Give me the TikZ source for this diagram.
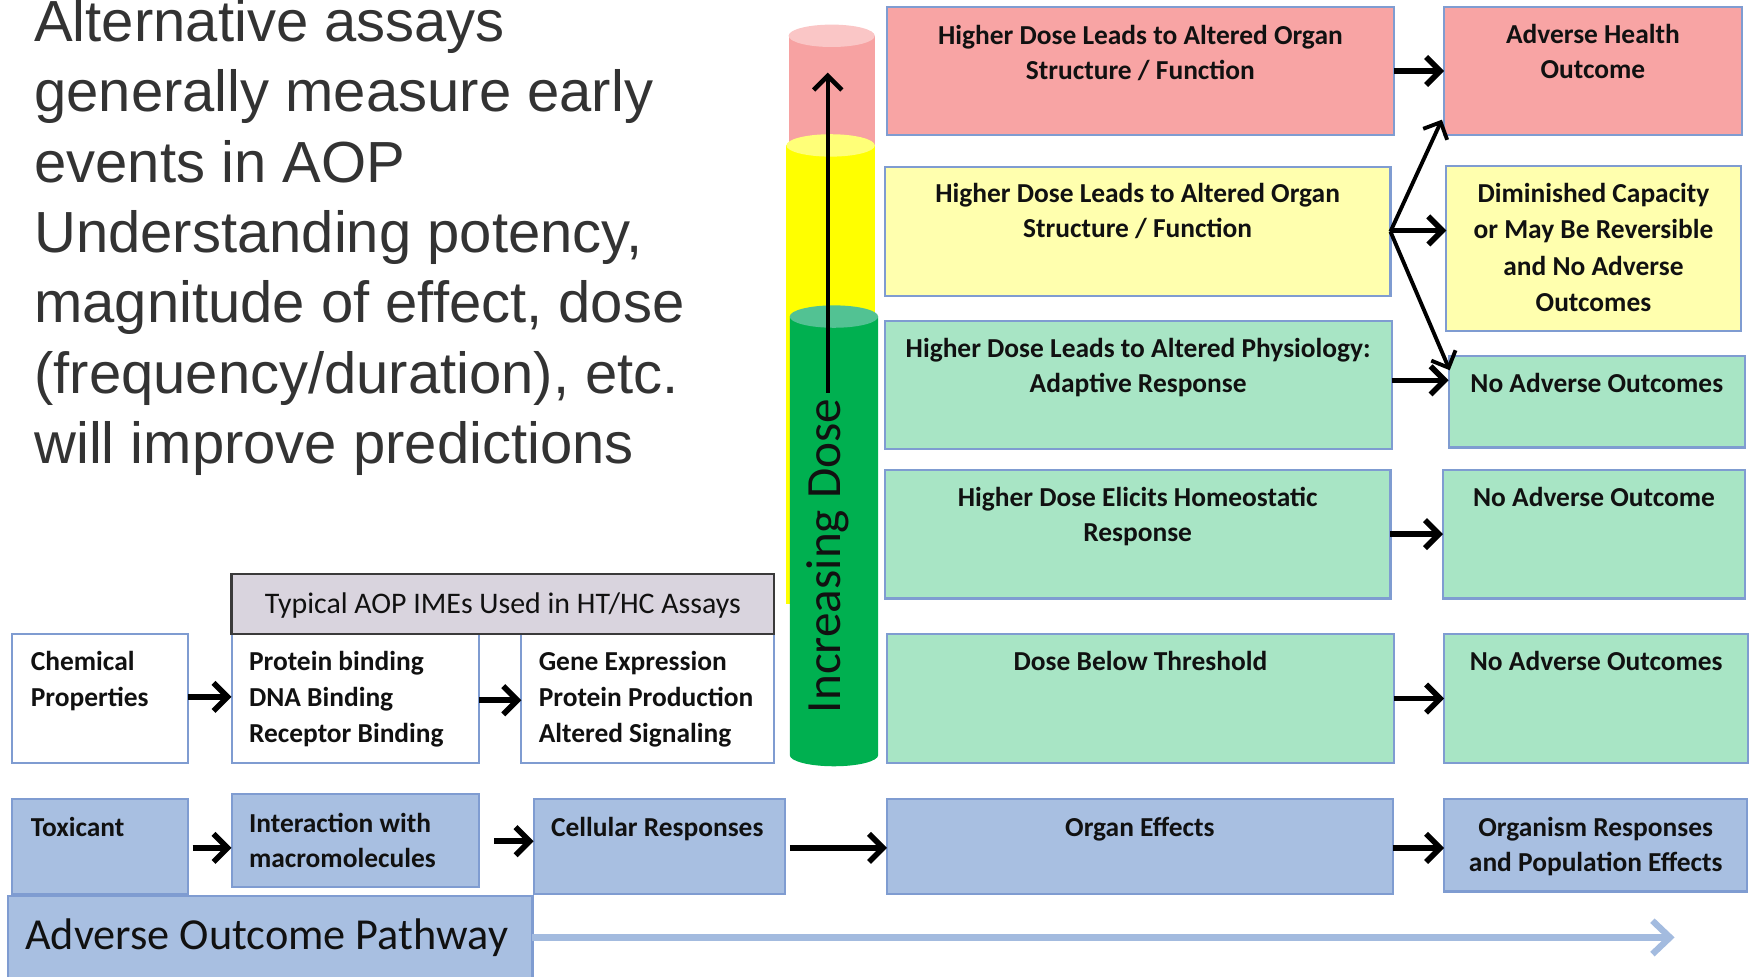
\documentclass[tikz,border=0pt]{standalone}
\usepackage{fontspec}
\setmainfont{Carlito}
\newfontfamily\arialf{Liberation Sans}
\usetikzlibrary{arrows.meta,fit}
\definecolor{redf}{HTML}{F8A4A4}
\definecolor{yelf}{HTML}{FFFFAE}
\definecolor{grnf}{HTML}{A8E5C5}
\definecolor{bluf}{HTML}{A8BFE1}
\definecolor{bord}{HTML}{7F9CD1}
\definecolor{hdrf}{HTML}{D9D4DE}
\definecolor{hdrb}{HTML}{3A3A3A}
\definecolor{cylred}{HTML}{F7A2A2}
\definecolor{cylredtop}{HTML}{FAC6C6}
\definecolor{cylyel}{HTML}{FFFF00}
\definecolor{cylyeltop}{HTML}{FFFF78}
\definecolor{cylgrn}{HTML}{00B050}
\definecolor{cylgrntop}{HTML}{52C293}
\definecolor{aopline}{HTML}{A3BBDF}
\definecolor{txtc}{HTML}{111111}
\definecolor{greytxt}{HTML}{333333}
\tikzset{
  box/.style={draw=bord, line width=0.6pt, inner sep=0pt, outer sep=0pt},
  hdrbox/.style={draw=hdrb, fill=hdrf, line width=0.7pt, inner sep=0pt, outer sep=0pt},
  bt/.style={font=\bfseries\fontsize{7.8}{10}\selectfont, text=txtc, align=center, inner sep=0pt, anchor=north},
  btl/.style={font=\bfseries\fontsize{7.8}{10.2}\selectfont, text=txtc, align=left, inner sep=0pt, anchor=north west},
  arr/.style={line width=1.6pt, -{Straight Barb[length=4pt,width=8pt]}},
  fan/.style={line width=1.1pt, -{Straight Barb[length=3.8pt,width=7.5pt]}},
}
\begin{document}
\begin{tikzpicture}[x=0.011186cm, y=-0.011186cm]
\useasboundingbox (0,0) rectangle (1568,873);

% left text
\node[font=\arialf\fontsize{16.5}{20}\selectfont, text=greytxt, align=left, inner sep=0pt, anchor=north west] (intro) at (30,-1)
 {Alternative assays\\generally measure early\\events in AOP\\Understanding potency,\\magnitude of effect, dose\\(frequency/duration), etc.\\will improve predictions};

% cylinder
\fill[cylred] (705,32) rectangle (782,140);
\fill[cylredtop] (743.5,32) ellipse [x radius=0.431cm, y radius=0.112cm];
\fill[cylyel] (703,130) rectangle (782,540);
\fill[cylyeltop] (742.5,130) ellipse [x radius=0.442cm, y radius=0.112cm];
\fill[cylgrn] (706,283) -- (706,675) arc[start angle=180, end angle=360, x radius=0.442cm, y radius=0.112cm] -- (785,283) -- cycle;
\fill[cylgrntop] (745.5,283) ellipse [x radius=0.442cm, y radius=0.112cm];
\node[rotate=90, font=\fontsize{14}{16}\selectfont, text=txtc, inner sep=1.5pt] (dose) at (740,497) {Increasing Dose};
\coordinate (dtop) at (740,65);
\draw[line width=1.3pt, -{Straight Barb[length=4pt,width=8pt]}] (dose.east) -- (dtop);

% middle and right column boxes
\node[box, fill=redf, fit={(793,6)(1246,121)}] (r1) {};
\node[box, fill=redf, fit={(1291,6)(1557,121)}] (aho) {};
\node[box, fill=yelf, fit={(791,149)(1243,265)}] (y1) {};
\node[box, fill=yelf, fit={(1293,148)(1556,296)}] (dim) {};
\node[box, fill=grnf, fit={(791,287)(1244,401)}] (g1) {};
\node[box, fill=grnf, fit={(1295,318)(1560,400)}] (nao1) {};
\node[box, fill=grnf, fit={(791,420)(1243,535)}] (g2) {};
\node[box, fill=grnf, fit={(1290,420)(1560,535)}] (nao2) {};
\node[box, fill=grnf, fit={(793,567)(1246,682)}] (g3) {};
\node[box, fill=grnf, fit={(1291,567)(1563,682)}] (nao3) {};
\node[box, fill=bluf, fit={(793,714)(1245,799)}] (organ) {};
\node[box, fill=bluf, fit={(1291,714)(1562,797)}] (orgpop) {};

\node[bt] (r1t) at (1019.5,22) {Higher Dose Leads to Altered Organ\\Structure / Function};
\node[bt] (ahot) at (1424,21) {Adverse Health\\Outcome};
\node[bt] (y1t) at (1017,163) {Higher Dose Leads to Altered Organ\\Structure / Function};
\node[bt, font=\bfseries\fontsize{7.8}{10.4}\selectfont] (dimt) at (1424.5,163) {Diminished Capacity\\or May Be Reversible\\and No Adverse\\Outcomes};
\node[bt] (g1t) at (1017.5,302) {Higher Dose Leads to Altered Physiology:\\Adaptive Response};
\node[bt] (nao1t) at (1427.5,333) {No Adverse Outcomes};
\node[bt] (g2t) at (1017,435) {Higher Dose Elicits Homeostatic\\Response};
\node[bt] (nao2t) at (1425,435) {No Adverse Outcome};
\node[bt] (g3t) at (1019.5,582) {Dose Below Threshold};
\node[bt] (nao3t) at (1427,582) {No Adverse Outcomes};
\node[bt] (organt) at (1019,730) {Organ Effects};
\node[bt] (orgpopt) at (1426.5,730) {Organism Responses\\and Population Effects};

% bottom left boxes
\node[box, fill=white, fit={(11,567)(168,682)}] (chem) {};
\node[box, fill=white, fit={(207,567)(428,682)}] (prot) {};
\node[box, fill=white, fit={(466,567)(692,682)}] (gene) {};
\node[hdrbox, fit={(207,513)(692,567)}] (hdr) {};
\node[box, fill=bluf, fit={(11,714)(168,799)}] (tox) {};
\node[box, fill=bluf, fit={(207,710)(428,793)}] (inter) {};
\node[box, fill=bluf, fit={(477,714)(702,799)}] (cell) {};
\node[box, fill=bluf, fit={(7,801)(476,880)}] (aop) {};

\node[font=\fontsize{8.5}{10}\selectfont, text=txtc, inner sep=0pt] (hdrt) at (449.5,541) {Typical AOP IMEs Used in HT/HC Assays};
\node[btl] (chemt) at (27,582) {Chemical\\Properties};
\node[btl] (prott) at (222,582) {Protein binding\\DNA Binding\\Receptor Binding};
\node[btl] (genet) at (481,582) {Gene Expression\\Protein Production\\Altered Signaling};
\node[btl] (toxt) at (27,730) {Toxicant};
\node[btl] (intert) at (222,726) {Interaction with\\macromolecules};
\node[btl] (cellt) at (492,730) {Cellular Responses};
\node[font=\fontsize{12.6}{14}\selectfont, text=txtc, inner sep=0pt, anchor=west] (aopt) at (22,838) {Adverse Outcome Pathway};

% connectors
\draw[arr] (r1.east) -- (aho.west);
\draw[arr] (y1.east |- 0,206) -- (dim.west |- 0,206);
\draw[fan] (y1.east) -- ([shift={(-2,-14)}]aho.south west);
\draw[fan] (y1.east) -- ([shift={(1,13)}]nao1.north west);
\draw[arr] (g1.east |- 0,340) -- (nao1.west |- 0,340);
\draw[arr] (g2.east) -- (nao2.west);
\draw[arr] (g3.east) -- (nao3.west);
\draw[arr] (organ.east |- 0,758) -- (orgpop.west |- 0,758);
\draw[arr, shorten <=1.3pt] (cell.east |- 0,758) -- (organ.west |- 0,758);
\draw[arr] (chem.east |- 0,623) -- (prot.west |- 0,623);
\draw[arr] (prot.east |- 0,626) -- (gene.west |- 0,626);
\draw[arr, shorten <=1.3pt] (tox.east |- 0,758) -- (inter.west |- 0,758);
\draw[arr, shorten <=4.4pt] (inter.east |- 0,752) -- (cell.west |- 0,752);
\coordinate (aopend) at (1497,838);
\draw[aopline, line width=1.8pt, -{Straight Barb[length=5pt,width=9.5pt]}] (aop.east |- 0,838) -- (aopend);
\end{tikzpicture}
\end{document}
